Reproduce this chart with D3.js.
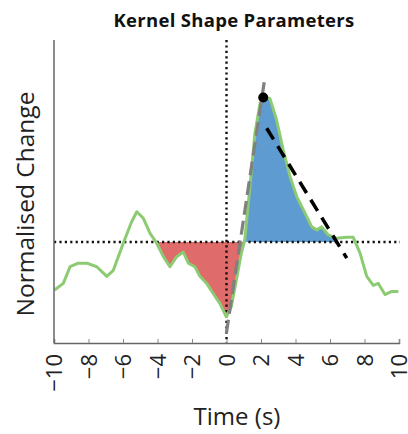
<!DOCTYPE html>
<html><head><meta charset="utf-8">
<script src="https://cdn.jsdelivr.net/npm/d3@7"></script>
<style>body{margin:0;background:#fff}svg{display:block}</style>
</head><body>
<svg id="c" width="408" height="434"></svg>
<script>
const title = "Kernel Shape Parameters";
const xLabel = "Time (s)";
const yLabel = "Normalised Change";
const xTicks = [-10,-8,-6,-4,-2,0,2,4,6,8,10];
const times = [-9.97,-9.46,-9.07,-8.59,-8.1,-7.52,-6.94,-6.56,-5.98,-5.5,-5.2,-4.82,-4.43,-4.05,-3.66,-3.28,-2.89,-2.5,-2.21,-1.83,-1.54,-1.15,-0.77,-0.38,-0.01,0.28,0.57,0.86,1.06,1.36,1.65,1.94,2.13,2.52,2.9,3.29,3.68,4.07,4.45,4.94,5.23,5.52,5.9,6.39,6.97,7.35,7.74,8.13,8.51,8.8,9.19,9.58,9.96];
const values = [-0.475,-0.41,-0.245,-0.21,-0.21,-0.245,-0.34,-0.28,-0.01,0.2,0.3,0.235,0.086,-0.01,-0.145,-0.245,-0.145,-0.1,-0.21,-0.245,-0.34,-0.41,-0.51,-0.61,-0.74,-0.64,-0.376,-0.11,0.02,0.55,1.08,1.37,1.44,1.42,1.21,0.91,0.65,0.45,0.32,0.15,0.12,0.15,0.07,0.036,0.046,0.046,-0.11,-0.34,-0.43,-0.41,-0.52,-0.49,-0.49];
const negRange = [-4.05, 1.06];
const posRange = [1.06, 6.4];
const riseLine = {t:[-0.01,2.22], v:[-0.906,1.62]};
const decayLine = {t:[2.33,6.97], v:[1.126,-0.16]};
const peak = {t:2.13, v:1.43};

const svg = d3.select("#c");
const x = d3.scaleLinear().domain([-10,10]).range([54,399]);
const y = d3.scaleLinear().domain([-1,2]).range([343,40]);
const data = times.map((t,i)=>({t, v:values[i]}));

function clip(range){
  const pts=[];
  const f = t => { for(let i=0;i<data.length-1;i++){ if(t>=data[i].t && t<=data[i+1].t){ const a=data[i],b=data[i+1]; return a.v+(b.v-a.v)*(t-a.t)/(b.t-a.t);} } return 0; };
  pts.push({t:range[0], v:f(range[0])});
  data.forEach(d=>{ if(d.t>range[0] && d.t<range[1]) pts.push(d); });
  pts.push({t:range[1], v:f(range[1])});
  return pts;
}
const area = d3.area().x(d=>x(d.t)).y0(y(0)).y1(d=>y(d.v));
svg.append("path").datum(clip(negRange).map(d=>({t:d.t,v:Math.min(d.v,0)}))).attr("d",area).attr("fill","#e06b6b");
svg.append("path").datum(clip(posRange).map(d=>({t:d.t,v:Math.max(d.v,0)}))).attr("d",area).attr("fill","#5e9bd0");

svg.append("line").attr("x1",x(-10)).attr("x2",x(10)+1).attr("y1",y(0)).attr("y2",y(0))
  .attr("stroke","#111").attr("stroke-width",2.4).attr("stroke-dasharray","2.2,3.2");
svg.append("line").attr("x1",x(0)).attr("x2",x(0)).attr("y1",y(2)).attr("y2",y(-1))
  .attr("stroke","#111").attr("stroke-width",2.4).attr("stroke-dasharray","2.2,3.2");

svg.append("path").datum(data).attr("d",d3.line().curve(d3.curveLinear).x(d=>x(d.t)).y(d=>y(d.v)))
  .attr("fill","none").attr("stroke","#8ccb72").attr("stroke-width",3).attr("stroke-linejoin","round");

svg.append("line").attr("x1",x(riseLine.t[0])).attr("y1",y(riseLine.v[0])).attr("x2",x(riseLine.t[1])).attr("y2",y(riseLine.v[1]))
  .attr("stroke","#808080").attr("stroke-width",3.2).attr("stroke-dasharray","14,6");
svg.append("line").attr("x1",x(decayLine.t[0])).attr("y1",y(decayLine.v[0])).attr("x2",x(decayLine.t[1])).attr("y2",y(decayLine.v[1]))
  .attr("stroke","#000").attr("stroke-width",3.5).attr("stroke-dasharray","13,8");
svg.append("circle").attr("cx",x(peak.t)).attr("cy",y(peak.v)).attr("r",5).attr("fill","#000");

const ax = svg.append("g").attr("transform",`translate(0,${y(-1)})`)
  .call(d3.axisBottom(x).tickValues(xTicks).tickSize(-4).tickPadding(8).tickFormat(d=>d<0?"\u2212"+Math.abs(d):d));
ax.select(".domain").attr("stroke","#666").attr("stroke-width",1.5);
ax.selectAll(".tick line").attr("stroke","#888");
ax.selectAll(".tick text").attr("transform","rotate(-90)").attr("text-anchor","end")
  .attr("x",-11).attr("y",0).attr("dy","0.36em")
  .attr("font-family","Open Sans").attr("font-size",22).attr("fill","#222");
svg.append("line").attr("x1",x(-10)).attr("x2",x(-10)).attr("y1",y(2)).attr("y2",y(-1)).attr("stroke","#666").attr("stroke-width",1.5);

svg.append("text").attr("x",234).attr("y",27).attr("text-anchor","middle")
  .attr("font-family","Open Sans").attr("font-weight","bold").attr("font-size",18.5).attr("letter-spacing",0.3).attr("fill","#111").text(title);
svg.append("text").attr("x",237).attr("y",425).attr("text-anchor","middle")
  .attr("font-family","Open Sans").attr("font-size",24).attr("fill","#222").text(xLabel);
svg.append("text").attr("transform","translate(34,204) rotate(-90)").attr("text-anchor","middle")
  .attr("font-family","Open Sans").attr("font-size",24.5).attr("fill","#222").text(yLabel);
</script>
</body></html>
